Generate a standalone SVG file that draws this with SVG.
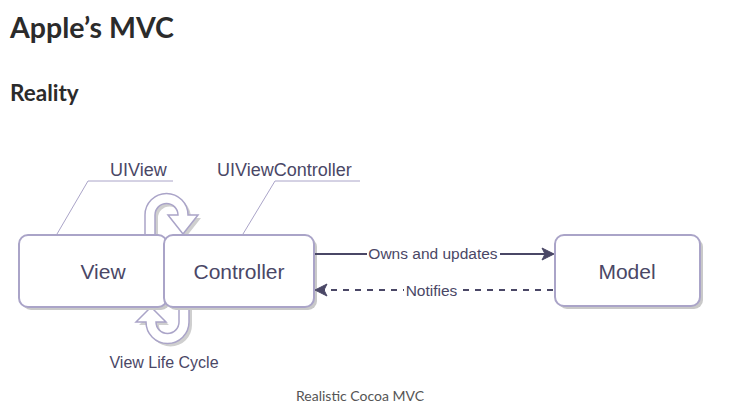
<svg xmlns="http://www.w3.org/2000/svg" width="733" height="417" viewBox="0 0 733 417">
<style>
.h{font-family:Lato,"Open Sans",sans-serif;font-weight:bold;fill:#2b2b2b}
.cap{font-family:Lato,"Open Sans",sans-serif;font-size:14px;fill:#555;text-anchor:middle}
.t{font-family:"Liberation Sans",Arial,sans-serif;fill:#4a4766}
.box{fill:#fff;stroke:#aaa4c8;stroke-width:2}
.sh{fill:#c9c9c9}
.call{fill:none;stroke:#aaa4c8;stroke-width:1}
.ua{fill:#fff;stroke:#aaa4c8;stroke-width:1.5;stroke-linejoin:miter}
.uash{fill:#cfcfcf}
.edge{fill:none;stroke:#4a4766;stroke-width:2}
</style>
<defs>
<marker id="ah" viewBox="0 0 12 12" refX="11" refY="6" markerWidth="12" markerHeight="12" markerUnits="userSpaceOnUse" orient="auto" overflow="visible">
<path d="M0,0 L12,6 L0,12 L3,6 Z" fill="#4a4766" stroke="#4a4766" stroke-width="1"/>
</marker>
</defs>
<rect width="733" height="417" fill="#fff"/>
<text class="h" x="10" y="38" font-size="28.5">Apple’s MVC</text>
<text class="h" x="10" y="101" font-size="22.5">Reality</text>

<g id="lifecycle-arrows">
<path class="uash" transform="translate(3,3)" d="M145,240 L145,215 A21.5,21.5 0 0 1 188,215 L198,215 L183,234 L168,215 L178,215 A11.5,11.5 0 0 0 155,215 L155,240 Z"/>
<path class="ua" d="M145,240 L145,215 A21.5,21.5 0 0 1 188,215 L198,215 L183,234 L168,215 L178,215 A11.5,11.5 0 0 0 155,215 L155,240 Z"/>
<path class="uash" transform="translate(3,3)" d="M189,300 L189,322 A21.5,21.5 0 0 1 146,322 L136,322 L151,307 L166,322 L156,322 A11.5,11.5 0 0 0 179,322 L179,300 Z"/>
<path class="ua" d="M189,300 L189,322 A21.5,21.5 0 0 1 146,322 L136,322 L151,307 L166,322 L156,322 A11.5,11.5 0 0 0 179,322 L179,300 Z"/>
</g>

<g id="view">
<rect class="sh" x="22" y="238" width="148" height="72" rx="9"/>
<rect class="box" x="19" y="235" width="148" height="72" rx="9"/>
<text class="t" x="103" y="279" font-size="21" text-anchor="middle">View</text>
</g>
<g id="controller">
<rect class="sh" x="167" y="238" width="150" height="72" rx="9"/>
<rect class="box" x="164" y="235" width="150" height="72" rx="9"/>
<text class="t" x="239" y="279" font-size="21" text-anchor="middle">Controller</text>
</g>
<g id="model">
<rect class="sh" x="558" y="238" width="145" height="71" rx="9"/>
<rect class="box" x="555" y="235" width="145" height="71" rx="9"/>
<text class="t" x="627" y="279" font-size="21" text-anchor="middle">Model</text>
</g>

<g id="callouts">
<polyline class="call" points="57,234 88,181 173,181"/>
<text class="t" x="110" y="176" font-size="18">UIView</text>
<polyline class="call" points="243,234 275,181 360,181"/>
<text class="t" x="217" y="176" font-size="18">UIViewController</text>
<text class="t" x="164" y="368" font-size="16" text-anchor="middle">View Life Cycle</text>
</g>

<g id="connectors">
<line class="edge" x1="315" y1="254" x2="553" y2="254" marker-end="url(#ah)"/>
<rect x="367" y="246" width="133" height="16" fill="#fff"/>
<text class="t" x="433" y="259" font-size="15.5" text-anchor="middle">Owns and updates</text>
<line class="edge" x1="553" y1="290" x2="316" y2="290" stroke-dasharray="6 6" marker-end="url(#ah)"/>
<rect x="404" y="282" width="55" height="16" fill="#fff"/>
<text class="t" x="431.5" y="296" font-size="15.5" text-anchor="middle">Notifies</text>
</g>

<text class="cap" x="360" y="401">Realistic Cocoa MVC</text>
</svg>
